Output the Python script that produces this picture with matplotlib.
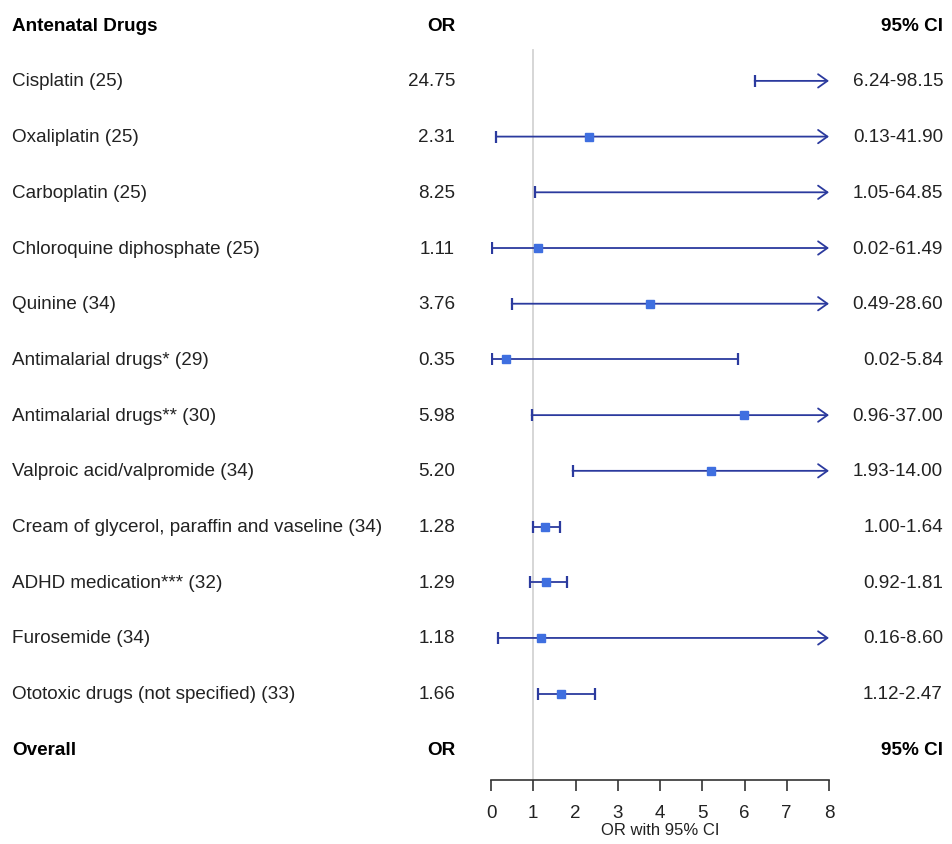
import numpy as np
import matplotlib
matplotlib.use("Agg")
import matplotlib.pyplot as plt
import matplotlib.transforms as mtrans

plt.rcParams['font.family'] = ['Liberation Sans', 'DejaVu Sans']

drugs = ["Cisplatin (25)", "Oxaliplatin (25)", "Carboplatin (25)",
         "Chloroquine diphosphate (25)", "Quinine (34)",
         "Antimalarial drugs* (29)", "Antimalarial drugs** (30)",
         "Valproic acid/valpromide (34)",
         "Cream of glycerol, paraffin and vaseline (34)",
         "ADHD medication*** (32)", "Furosemide (34)",
         "Ototoxic drugs (not specified) (33)"]
odds = [24.75, 2.31, 8.25, 1.11, 3.76, 0.35, 5.98, 5.20, 1.28, 1.29, 1.18, 1.66]
lower = [6.24, 0.13, 1.05, 0.02, 0.49, 0.02, 0.96, 1.93, 1.00, 0.92, 0.16, 1.12]
upper = [98.15, 41.90, 64.85, 61.49, 28.60, 5.84, 37.00, 14.00, 1.64, 1.81, 8.60, 2.47]
xticks = [0, 1, 2, 3, 4, 5, 6, 7, 8]

line_c = '#2B3A9E'
box_c = '#3F6FE0'
txt_c = '#222222'
xmax = 8

fig = plt.figure(figsize=(9.52, 8.45), dpi=100)
ax = fig.add_axes([491 / 952, 64 / 845, 338 / 952, 781 / 845])
ax.set_xlim(0, xmax)
ax.set_ylim(13.55, -0.47)

n = len(drugs)
rows = np.arange(1, n + 1)

ax.plot([1, 1], [0.45, 13.55], color='#D3D3D3', lw=1.3, zorder=1)

for y, o, lo, hi in zip(rows, odds, lower, upper):
    if hi > xmax:
        ax.annotate('', xy=(xmax, y), xytext=(lo, y),
                    arrowprops=dict(arrowstyle='->,head_length=0.45,head_width=0.32',
                                    color=line_c, lw=1.3, shrinkA=0, shrinkB=0,
                                    mutation_scale=15))
        ax.plot([lo], [y], marker='|', ms=9, mew=1.6, color=line_c, ls='none')
    else:
        ax.plot([lo, hi], [y, y], color=line_c, lw=1.3)
        ax.plot([lo, hi], [y, y], marker='|', ms=9, mew=1.6, color=line_c, ls='none')
    if o <= xmax:
        ax.plot([o], [y], marker='s', ms=5.5, color=box_c, zorder=3)

# text columns
trans_l = mtrans.blended_transform_factory(fig.transFigure, ax.transData)
fs = 13.6
for y, name, o, lo, hi in zip(rows, drugs, odds, lower, upper):
    ax.text(12 / 952, y, name, transform=trans_l, ha='left', va='center',
            fontsize=fs, color=txt_c)
    ax.text(455 / 952, y, f"{o:.2f}", transform=trans_l, ha='right', va='center',
            fontsize=fs, color=txt_c)
    ax.text(943 / 952, y, f"{lo:.2f}-{hi:.2f}", transform=trans_l, ha='right',
            va='center', fontsize=fs, color=txt_c)

for y, title in [(0, "Antenatal Drugs"), (n + 1, "Overall")]:
    ax.text(12 / 952, y, title, transform=trans_l, ha='left', va='center',
            fontsize=fs, fontweight='bold', color='black')
    ax.text(455 / 952, y, "OR", transform=trans_l, ha='right', va='center',
            fontsize=fs, fontweight='bold', color='black')
    ax.text(943 / 952, y, "95% CI", transform=trans_l, ha='right', va='center',
            fontsize=fs, fontweight='bold', color='black')

for s in ['top', 'right', 'left']:
    ax.spines[s].set_visible(False)
ax.spines['bottom'].set_color('#333333')
ax.spines['bottom'].set_linewidth(1.2)
ax.set_yticks([])
ax.set_xticks(xticks)
ax.tick_params(axis='x', direction='out', length=8, width=1.2, color='#333333',
               labelsize=13.5, labelcolor=txt_c, pad=9)
ax.set_xlabel("OR with 95% CI", fontsize=12, color=txt_c, labelpad=1)
ax.patch.set_alpha(0)

fig.savefig("out.png", dpi=100)
